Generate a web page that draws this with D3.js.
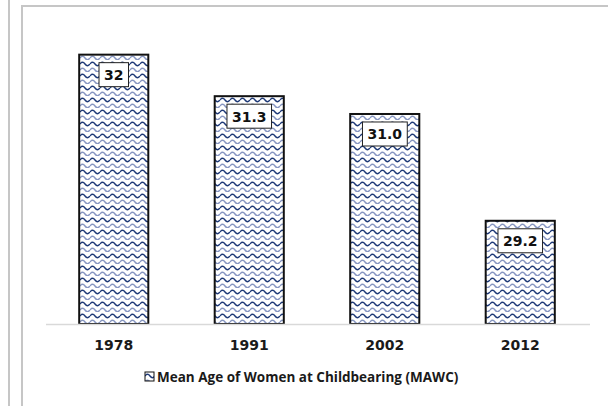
<!DOCTYPE html>
<html>
<head>
<meta charset="utf-8">
<script src="https://cdn.jsdelivr.net/npm/d3@7"></script>
<style>
  body { margin: 0; background: #fff; }
  svg { display: block; font-family: "DejaVu Sans", Verdana, sans-serif; }
</style>
</head>
<body>
<svg id="chart" width="608" height="406"></svg>
<script>
const years = ['1978', '1991', '2002', '2012'];
const mawc = [32.0, 31.3, 31.0, 29.2];
const valueLabels = ['32', '31.3', '31.0', '29.2'];
const seriesName = 'Mean Age of Women at Childbearing (MAWC)';

const svg = d3.select('#chart');
const width = +svg.attr('width');
const height = +svg.attr('height');

const navy = '#1f3a78';
const paleNavy = '#8796c2';

// wave fill like the excel pattern
const defs = svg.append('defs');
const wave = defs.append('pattern')
  .attr('id', 'wave')
  .attr('patternUnits', 'userSpaceOnUse')
  .attr('width', 10)
  .attr('height', 12);
wave.append('rect').attr('width', 10).attr('height', 12).attr('fill', '#fff');
wave.append('path')
  .attr('d', 'M0 4 Q2.5 0.5 5 4 T10 4')
  .attr('fill', 'none').attr('stroke', navy).attr('stroke-width', 1.4);
wave.append('path')
  .attr('d', 'M0 10 Q2.5 6.5 5 10 T10 10')
  .attr('fill', 'none').attr('stroke', paleNavy).attr('stroke-width', 1.4);

// frame lines
svg.append('line')
  .attr('x1', 9).attr('x2', 9).attr('y1', 0).attr('y2', height)
  .attr('stroke', '#c6c6c6').attr('stroke-width', 2);
svg.append('path')
  .attr('d', `M22,${height} L22,6 L${width},6`)
  .attr('fill', 'none').attr('stroke', '#c6c6c6').attr('stroke-width', 2);

const x = d3.scaleBand()
  .domain(years)
  .range([46, 588])
  .paddingInner(0.49)
  .paddingOuter(0.245);

const y = d3.scaleLinear()
  .domain([27.46, 32.5])
  .range([324, 25]);

const bars = svg.append('g');
bars.selectAll('rect')
  .data(mawc)
  .join('rect')
    .attr('x', (d, i) => x(years[i]))
    .attr('y', d => y(d))
    .attr('width', x.bandwidth())
    .attr('height', d => y.range()[0] - y(d))
    .attr('fill', 'url(#wave)')
    .attr('stroke', '#111')
    .attr('stroke-width', 2);

// category axis
const xAxis = svg.append('g')
  .attr('transform', `translate(0,${y.range()[0]})`)
  .call(d3.axisBottom(x).tickSize(0).tickPadding(16));
xAxis.select('.domain')
  .attr('d', `M46,0.5H590`)
  .attr('stroke', '#d9d9d9').attr('stroke-width', 1.5);
xAxis.selectAll('text')
  .attr('font-family', '"DejaVu Sans", Verdana, sans-serif')
  .attr('font-size', 14)
  .attr('font-weight', 'bold')
  .attr('fill', '#1a1a1a');

// value labels in white boxes
const labels = svg.append('g')
  .selectAll('g')
  .data(mawc)
  .join('g')
    .attr('transform', (d, i) => `translate(${x(years[i]) + x.bandwidth() / 2},${y(d) + 8})`);

labels.append('text')
  .attr('text-anchor', 'middle')
  .attr('y', 17.5)
  .attr('font-size', 14)
  .attr('font-weight', 'bold')
  .attr('fill', '#111')
  .text((d, i) => valueLabels[i]);

labels.each(function() {
  const g = d3.select(this);
  const box = g.select('text').node().getBBox();
  g.insert('rect', 'text')
    .attr('x', box.x - 5)
    .attr('y', 0)
    .attr('width', box.width + 10)
    .attr('height', 24)
    .attr('fill', '#fff')
    .attr('stroke', '#222')
    .attr('stroke-width', 1);
});

// legend
const legend = svg.append('g').attr('transform', 'translate(145,372)');
legend.append('rect')
  .attr('width', 9).attr('height', 9)
  .attr('fill', 'url(#wave)')
  .attr('stroke', '#111').attr('stroke-width', 1);
legend.append('text')
  .attr('x', 12)
  .attr('y', 10)
  .attr('font-family', '"Open Sans", sans-serif')
  .attr('font-size', 13.5)
  .attr('font-weight', 'bold')
  .attr('fill', '#1a1a1a')
  .text(seriesName);
</script>
</body>
</html>
